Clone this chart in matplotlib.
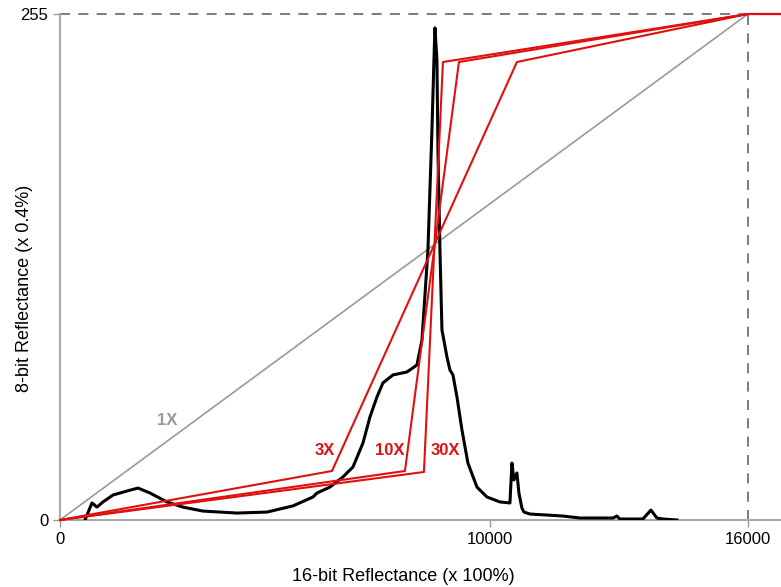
import numpy as np
import matplotlib
matplotlib.use("Agg")
import matplotlib.pyplot as plt

plt.rcParams['font.family'] = ['Liberation Sans', 'DejaVu Sans']

# histogram of 16-bit reflectance values (arbitrary scale)
hist_x = [581, 744, 860, 1000, 1233, 1558, 1814, 2093, 2488, 2860, 3326, 4116,
          4814, 5419, 5884, 5977, 6279, 6581, 6814, 7047, 7209, 7372, 7512,
          7744, 8070, 8302, 8419, 8558, 8651, 8698, 8721, 8767, 8791, 8837,
          8884, 9000, 9070, 9140, 9233, 9349, 9488, 9698, 9930, 10233, 10465,
          10512, 10558, 10628, 10674, 10744, 10791, 10930, 11326, 11698, 12093,
          12860, 12953, 13023, 13558, 13744, 13884, 14023, 14349]
hist_y = [0, 8.6, 6.5, 9.1, 12.6, 14.6, 16.1, 13.6, 9.1, 6.5, 4.5, 3.5,
          4.0, 7.1, 11.6, 13.6, 16.6, 21.7, 26.7, 38.8, 51.9, 62.0, 69.1,
          73.1, 74.6, 78.1, 90.7, 136, 196.6, 231.9, 248, 231.9, 186.5, 136,
          95.8, 82.2, 75.6, 73.1, 62, 45.4, 28.7, 16.6, 11.6, 9.1, 8.6,
          28.7, 20.2, 23.7, 13.6, 6.0, 4.0, 3.0, 2.5, 2.0, 1.0,
          1.0, 2.0, 0.5, 0.5, 5.0, 1.0, 0.5, 0]

# contrast stretch lookup curves
x_max = 16000
x_end = 16770
stretch_3x_x = [0, 6326, 10628, x_max, x_end]
stretch_3x_y = [0, 24.7, 230.8, 255, 255]
stretch_10x_x = [0, 8023, 9279, x_max, x_end]
stretch_10x_y = [0, 24.7, 230.8, 255, 255]
stretch_30x_x = [0, 8465, 8907, x_max, x_end]
stretch_30x_y = [0, 24.2, 230.8, 255, 255]
linear_x = [0, x_max]
linear_y = [0, 255]

red = '#e01010'

fig = plt.figure(figsize=(7.81, 5.87), dpi=100)
ax = fig.add_axes([60/781, 67/587, 721/781, 506/587])

ax.plot([0, x_max], [255, 255], color='#666666', lw=1.2, dashes=(6, 5), clip_on=False)
ax.plot([x_max, x_max], [0, 255], color='#666666', lw=1.2, dashes=(6, 5), clip_on=False)

ax.plot(linear_x, linear_y, color='#9a9a9a', lw=1.2)
ax.plot(hist_x, hist_y, color='black', lw=2.2, zorder=3)
for sx, sy in [(stretch_3x_x, stretch_3x_y), (stretch_10x_x, stretch_10x_y),
               (stretch_30x_x, stretch_30x_y)]:
    ax.plot(sx, sy, color=red, lw=1.5, clip_on=False, zorder=4)

ax.text(2488, 49.9, '1X', color='#9a9a9a', fontsize=12, fontweight='bold', ha='center', va='center')
ax.text(6163, 34.8, '3X', color=red, fontsize=12, fontweight='bold', ha='center', va='center')
ax.text(7674, 34.8, '10X', color=red, fontsize=12, fontweight='bold', ha='center', va='center')
ax.text(8953, 34.8, '30X', color=red, fontsize=12, fontweight='bold', ha='center', va='center')

ax.set_xlim(0, x_end)
ax.set_ylim(0, 255)
ax.set_xticks([0, 10000, 16000])
ax.set_yticks([0, 255])
ax.tick_params(colors='#999999', labelcolor='black', labelsize=12, length=5, width=1)
for s in ['top', 'right']:
    ax.spines[s].set_visible(False)
for s in ['left', 'bottom']:
    ax.spines[s].set_color('#aaaaaa')
    ax.spines[s].set_linewidth(1.5)

ax.set_xlabel('16-bit Reflectance (x 100%)', fontsize=13)
ax.xaxis.set_label_coords((403 - 60) / 721, -48 / 506)
ax.set_ylabel('8-bit Reflectance (x 0.4%)', fontsize=13)
ax.yaxis.set_label_coords(-27 / 721, (520 - 288) / 506)

fig.savefig('out.png', dpi=100)
